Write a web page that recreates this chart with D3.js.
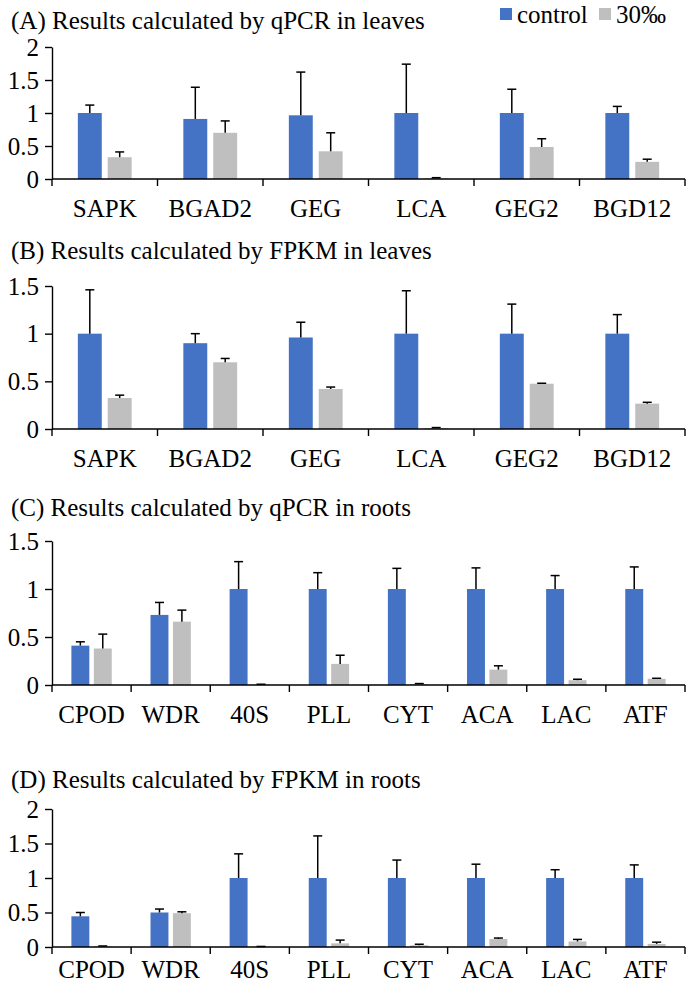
<!DOCTYPE html>
<html><head><meta charset="utf-8">
<script src="https://cdnjs.cloudflare.com/ajax/libs/d3/7.8.5/d3.min.js"></script>
<style>
html,body{margin:0;padding:0;background:#fff;}
svg text{font-family:"Liberation Serif","Times New Roman",serif;fill:#000;}
</style></head>
<body>
<svg id="chart" width="687" height="985"></svg>
<script>
const seriesNames = ["control", "30‰"];
const seriesColors = ["#4472C4", "#BFBFBF"];

const leafGenes = ["SAPK", "BGAD2", "GEG", "LCA", "GEG2", "BGD12"];
const rootGenes = ["CPOD", "WDR", "40S", "PLL", "CYT", "ACA", "LAC", "ATF"];

// (A) qPCR leaves
const aControl = [1.0, 0.91, 0.965, 1.0, 1.0, 1.0];
const aControlErr = [0.12, 0.48, 0.655, 0.74, 0.36, 0.10];
const aSalt = [0.33, 0.70, 0.42, 0.01, 0.485, 0.26];
const aSaltErr = [0.08, 0.18, 0.28, 0.01, 0.125, 0.04];
// (B) FPKM leaves
const bControl = [1.0, 0.90, 0.96, 1.0, 1.0, 1.0];
const bControlErr = [0.46, 0.10, 0.16, 0.45, 0.31, 0.20];
const bSalt = [0.325, 0.70, 0.42, 0.01, 0.475, 0.266];
const bSaltErr = [0.03, 0.04, 0.02, 0.005, 0.005, 0.014];
// (C) qPCR roots
const cControl = [0.41, 0.73, 1.0, 1.0, 1.0, 1.0, 1.0, 1.0];
const cControlErr = [0.04, 0.13, 0.285, 0.17, 0.215, 0.22, 0.14, 0.23];
const cSalt = [0.38, 0.66, 0.005, 0.22, 0.01, 0.16, 0.05, 0.065];
const cSaltErr = [0.15, 0.12, 0.003, 0.09, 0.005, 0.04, 0.01, 0.005];
// (D) FPKM roots
const dControl = [0.445, 0.50, 1.0, 1.0, 1.0, 1.0, 1.0, 1.0];
const dControlErr = [0.055, 0.05, 0.35, 0.61, 0.26, 0.20, 0.12, 0.19];
const dSalt = [0.01, 0.49, 0.005, 0.053, 0.025, 0.116, 0.08, 0.045];
const dSaltErr = [0.005, 0.02, 0.003, 0.047, 0.015, 0.014, 0.03, 0.025];

const ticks2 = [0, 0.5, 1, 1.5, 2];
const ticks15 = [0, 0.5, 1, 1.5];

const titles = [
  "(A) Results calculated by qPCR in leaves",
  "(B) Results calculated by FPKM in leaves",
  "(C) Results calculated by qPCR in roots",
  "(D) Results calculated by FPKM in roots"
];

const panels = [
  {title: titles[0], cats: leafGenes, vals: [aControl, aSalt], errs: [aControlErr, aSaltErr], ticks: ticks2, top: 47, bottom: 179, titleY: 29, labelY: 217},
  {title: titles[1], cats: leafGenes, vals: [bControl, bSalt], errs: [bControlErr, bSaltErr], ticks: ticks15, top: 286, bottom: 429, titleY: 259, labelY: 467},
  {title: titles[2], cats: rootGenes, vals: [cControl, cSalt], errs: [cControlErr, cSaltErr], ticks: ticks15, top: 541, bottom: 685, titleY: 516, labelY: 723},
  {title: titles[3], cats: rootGenes, vals: [dControl, dSalt], errs: [dControlErr, dSaltErr], ticks: ticks2, top: 809, bottom: 947, titleY: 788, labelY: 978}
];

const svg = d3.select("#chart");
const FS = 25;
const xLeft = 52, xRight = 685;

panels.forEach(p => {
  const g = svg.append("g");
  const yMax = p.ticks[p.ticks.length - 1];
  const y = d3.scaleLinear().domain([0, yMax]).range([p.bottom, p.top]);
  const x0 = d3.scaleBand().domain(p.cats).range([xLeft, xRight]).padding(0);
  const bw = x0.bandwidth();
  const inset = bw * 0.245;
  const x1 = d3.scaleBand().domain(seriesNames).range([inset, bw - inset]).paddingInner(0.2).paddingOuter(0);

  g.append("text").attr("x", 11).attr("y", p.titleY).attr("font-size", FS).text(p.title);

  seriesNames.forEach((s, si) => {
    const data = p.cats.map((c, i) => ({c, v: p.vals[si][i], e: p.errs[si][i]}));
    g.selectAll(null).data(data).enter().append("rect")
      .attr("x", d => x0(d.c) + x1(s))
      .attr("y", d => y(d.v))
      .attr("width", x1.bandwidth())
      .attr("height", d => y(0) - y(d.v))
      .attr("fill", seriesColors[si]);
    const eg = g.selectAll(null).data(data).enter().append("g")
      .attr("stroke", "#000").attr("stroke-width", 1.5);
    eg.append("line")
      .attr("x1", d => x0(d.c) + x1(s) + x1.bandwidth() / 2)
      .attr("x2", d => x0(d.c) + x1(s) + x1.bandwidth() / 2)
      .attr("y1", d => y(d.v))
      .attr("y2", d => y(d.v + d.e));
    eg.append("line")
      .attr("x1", d => x0(d.c) + x1(s) + x1.bandwidth() / 2 - 4.5)
      .attr("x2", d => x0(d.c) + x1(s) + x1.bandwidth() / 2 + 4.5)
      .attr("y1", d => y(d.v + d.e))
      .attr("y2", d => y(d.v + d.e));
  });

  const ya = g.append("g").attr("transform", `translate(${xLeft},0)`)
    .call(d3.axisLeft(y).tickValues(p.ticks).tickFormat(d3.format("")).tickSize(7).tickPadding(6).tickSizeOuter(0));
  ya.select(".domain").attr("stroke", "#000").attr("stroke-width", 1.4);
  ya.selectAll(".tick line").attr("stroke", "#000").attr("stroke-width", 1.4);
  ya.selectAll(".tick text").attr("font-size", FS).attr("font-family", "Liberation Serif").attr("fill", "#000");

  g.append("line").attr("x1", xLeft).attr("x2", xRight).attr("y1", y(0)).attr("y2", y(0))
    .attr("stroke", "#000").attr("stroke-width", 1.4);
  const bounds = p.cats.map(c => x0(c)).concat([x0(p.cats[p.cats.length - 1]) + bw]);
  g.selectAll(null).data(bounds).enter().append("line")
    .attr("x1", d => d).attr("x2", d => d)
    .attr("y1", y(0)).attr("y2", y(0) + 7)
    .attr("stroke", "#000").attr("stroke-width", 1.4);
  g.selectAll(null).data(p.cats).enter().append("text")
    .attr("x", c => x0(c) + bw / 2).attr("y", p.labelY)
    .attr("text-anchor", "middle").attr("font-size", FS).text(c => c);
});

const lg = svg.append("g");
const legendX = [500, 599];
seriesNames.forEach((s, i) => {
  lg.append("rect").attr("x", legendX[i]).attr("y", 8).attr("width", 12).attr("height", 12).attr("fill", seriesColors[i]);
  lg.append("text").attr("x", legendX[i] + 17).attr("y", 23).attr("font-size", FS).text(s);
});
</script>
</body></html>
